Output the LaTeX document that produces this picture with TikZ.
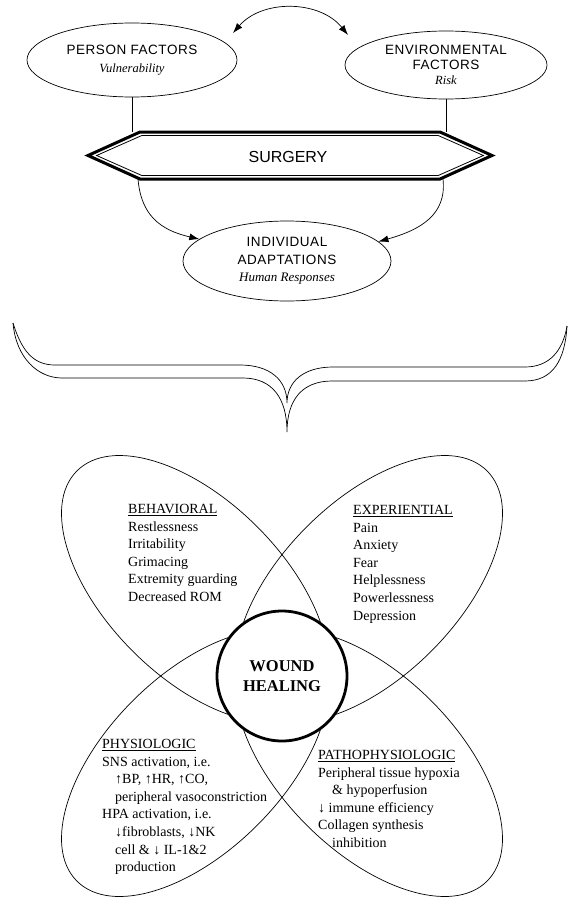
\documentclass[tikz,border=0pt]{standalone}
\usepackage{fontspec}
\setmainfont{Liberation Serif}
\setsansfont{Liberation Sans}
\newfontfamily\capsfont[LetterSpace=4]{Liberation Sans}
\usetikzlibrary{arrows.meta,shapes.geometric}

\begin{document}
\begin{tikzpicture}[x=1pt,y=-1pt]

\def\tip{{Latex[length=10pt,width=7pt]}}
\tikzstyle{oval} = [
	draw, ellipse, inner sep=0pt, align=center, line width=0.7pt,
	font=\capsfont\fontsize{13.5}{17.5}\selectfont ];
\tikzstyle{link} = [draw, line width=0.7pt];
\tikzstyle{petal} = [draw, line width=0.7pt];
\tikzstyle{list} = [
	anchor=north west, inner sep=0pt, align=left,
	font=\fontsize{14}{17.6}\selectfont ];
\useasboundingbox (0,0) rectangle (569,899);

% factors
\node[oval,minimum width=210,minimum height=74] (pf) at (132,60)
	{PERSON FACTORS\\{\rmfamily\itshape\fontsize{12.5}{15}\selectfont Vulnerability}};
\node[oval,minimum width=202,minimum height=68,
	font=\capsfont\fontsize{13.5}{15}\selectfont] (ef) at (446,65)
	{ENVIRONMENTAL\\FACTORS\\{\rmfamily\itshape\fontsize{12.5}{15}\selectfont Risk}};
\coordinate (t1) at (233,33);
\coordinate (t2) at (348,35);
\draw[link,\tip-\tip] (t1) to[bend left=50] (t2);

% surgery
\node[font=\sffamily\fontsize{16}{18}\selectfont] (sg) at (288,157) {SURGERY};
\coordinate (h1) at (140,132);
\coordinate (h2) at (440,132);
\draw[line width=3pt] (88,155.5) -- (h1) -- (h2) -- (492,155.5)
	-- (440,179) -- (140,179) -- cycle;
\draw[line width=0.8pt] (96.6,155.5) -- (141.8,135.5) -- (438.2,135.5)
	-- (483.4,155.5) -- (438.2,175.5) -- (141.8,175.5) -- cycle;
\draw[link] (pf.south) -- (pf.south |- h1);
\draw[link] (ef.south) -- (ef.south |- h2);

% adaptations
\node[oval,minimum width=208,minimum height=80] (ia) at (287,261)
	{INDIVIDUAL\\ADAPTATIONS\\{\rmfamily\itshape\fontsize{13}{15}\selectfont Human Responses}};
\coordinate (s1) at (138,179);
\coordinate (s2) at (443,179);
\draw[link,-\tip] (s1) .. controls (141,215) and (160,230) .. (ia.166);
\draw[link,-\tip] (s2) .. controls (447,215) and (420,230) .. (ia.12);

% brace
\draw[link] (13,323) .. controls (22,352) and (34,365) .. (55,365) -- (240,365)
	.. controls (270,365) and (287,380) .. (287,403)
	.. controls (287,382) and (303,367) .. (333,367) -- (525,367)
	.. controls (550,367) and (563,350) .. (567,326);
\draw[link] (13,323) .. controls (16,358) and (38,378) .. (62,378) -- (243,378)
	.. controls (272,378) and (287,398) .. (287,432)
	.. controls (287,400) and (302,381) .. (332,381) -- (525,381)
	.. controls (553,381) and (565,360) .. (567,326);

% petals
\draw[petal,rotate around={-45:(195,589)}] (195,589) ellipse [x radius=167, y radius=88];
\draw[petal,rotate around={45:(369,589)}] (369,589) ellipse [x radius=167, y radius=88];
\draw[petal,rotate around={45:(195,763)}] (195,763) ellipse [x radius=167, y radius=88];
\draw[petal,rotate around={-45:(369,763)}] (369,763) ellipse [x radius=167, y radius=88];

\node[circle,draw,line width=2.8pt,fill=white,minimum size=130,inner sep=0pt,
	align=center,font=\bfseries\fontsize{16.5}{20}\selectfont] (wh) at (282,676)
	{WOUND\\HEALING};

\node[list] (beh) at (128,504) {\underline{BEHAVIORAL}\\Restlessness\\Irritability\\
	Grimacing\\Extremity guarding\\Decreased ROM};
\node[list] (exp) at (353,505) {\underline{EXPERIENTIAL}\\Pain\\Anxiety\\Fear\\
	Helplessness\\Powerlessness\\Depression};
\node[list] (phy) at (102,739) {\underline{PHYSIOLOGIC}\\SNS activation, i.e.\\
	\hspace*{13pt}↑BP, ↑HR, ↑CO,\\\hspace*{13pt}peripheral vasoconstriction\\
	HPA activation, i.e.\\\hspace*{13pt}↓fibroblasts, ↓NK\\
	\hspace*{13pt}cell \& ↓ IL-1\&2\\\hspace*{13pt}production};
\node[list] (pat) at (318,750) {\underline{PATHOPHYSIOLOGIC}\\Peripheral tissue hypoxia\\
	\hspace*{14pt}\& hypoperfusion\\↓ immune efficiency\\Collagen synthesis\\
	\hspace*{14pt}inhibition};

\end{tikzpicture}
\end{document}
